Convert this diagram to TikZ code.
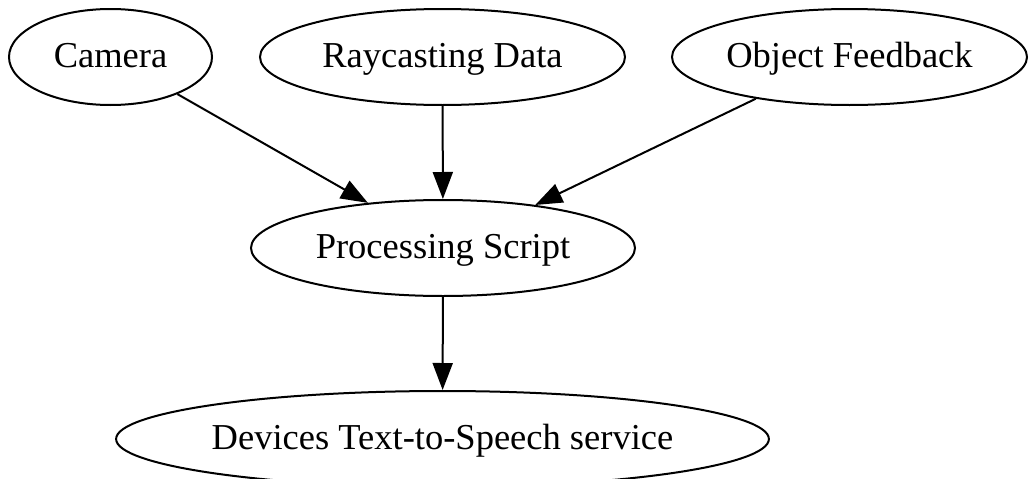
\documentclass[tikz,border=0pt]{standalone}
\usepackage{fontspec}
\setmainfont{Liberation Serif}
\usetikzlibrary{shapes.geometric,arrows.meta}
\begin{document}
\begin{tikzpicture}[x=1pt,y=-1pt,line width=2pt,
    blob/.style={ellipse,draw,inner sep=0pt,minimum height=96pt,text height=26pt,text depth=6pt,font=\fontsize{36.5}{40}\selectfont},
    >={Triangle[length=27pt,width=20pt]}]
            \useasboundingbox (0,0) rectangle (1036,479);
            \node[blob,minimum width=203pt] (cam) at (110.5,57) {Camera};
            \node[blob,minimum width=365pt] (ray) at (442.5,57) {Raycasting Data};
            \node[blob,minimum width=355pt] (obj) at (849.5,57) {Object Feedback};
            \node[blob,minimum width=384pt] (proc) at (443,248) {Processing Script};
            \node[blob,minimum width=651pt] (tts) at (442.5,439) {Devices Text-to-Speech service};
            \draw[->] (cam.-29.7) -- (proc.149.4);
            \draw[->] (ray) -- (proc);
            \draw[->] (obj.204.4) -- (proc.25.8);
            \draw[->] (proc) -- (tts);
        \end{tikzpicture}
\end{document}
